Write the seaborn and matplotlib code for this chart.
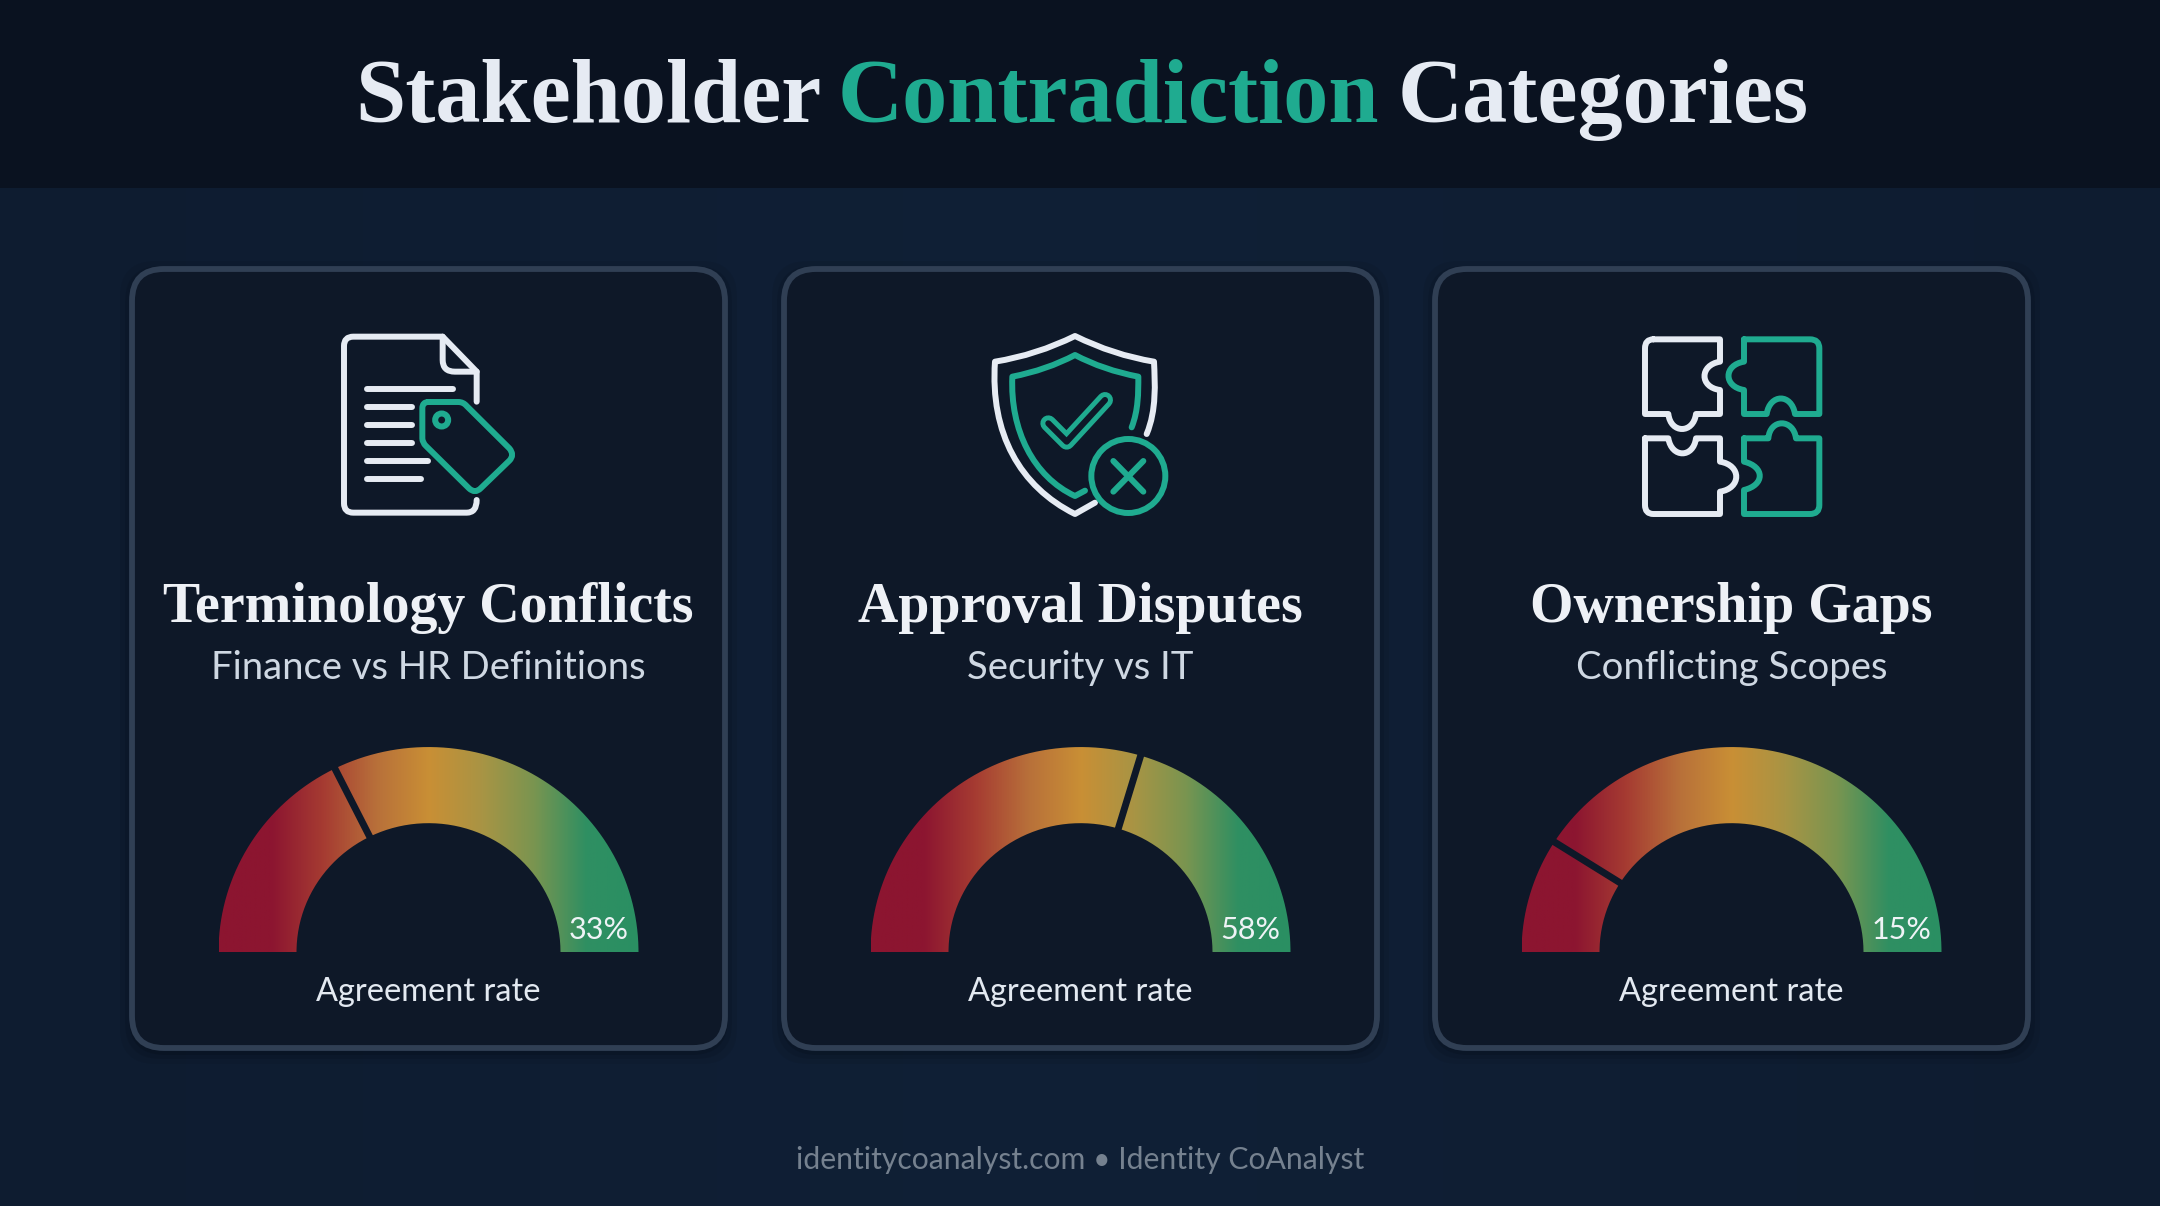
import numpy as np
import matplotlib
matplotlib.use("Agg")
import matplotlib.pyplot as plt
import seaborn as sns
from matplotlib.path import Path
from matplotlib.patches import PathPatch, FancyBboxPatch, Circle, Rectangle

# data
title_parts = ["Stakeholder", "Contradiction", "Categories"]
categories = ["Terminology Conflicts", "Approval Disputes", "Ownership Gaps"]
subtitles = ["Finance vs HR Definitions", "Security vs IT", "Conflicting Scopes"]
agreement = [33, 58, 15]
gauge_label = "Agreement rate"
footer = "identitycoanalyst.com • Identity CoAnalyst"

WHITE = "#e6ebf3"
TEAL = "#1fab90"
CARD = "#0e1828"
EDGE = "#303f54"
gauge_colors = ["#8c1530", "#8c1530", "#a63c32", "#b8703a", "#c98f35",
                "#a99444", "#7a9550", "#2f8f62", "#2a8f63"]

sns.set_theme(style="dark", rc={"axes.facecolor": "#102034", "figure.facecolor": "#102034"})
plt.rcParams["font.family"] = ["Lato", "DejaVu Sans"]
SERIF = ["Liberation Serif", "DejaVu Serif"]

fig = plt.figure(figsize=(21.6, 12.06), dpi=100)
ax = fig.add_axes([0, 0, 1, 1])

# background
bg_cmap = sns.blend_palette(["#0e1c30", "#102036", "#0e1c30"], n_colors=128, as_cmap=True)
ax.imshow(np.linspace(0, 1, 512)[None, :], extent=(0, 2160, 1206, 0), aspect="auto",
          cmap=bg_cmap, zorder=0)
ax.add_patch(Rectangle((0, 0), 2160, 188, fc="#0a1220", ec="none", zorder=1))
ax.set_xlim(0, 2160)
ax.set_ylim(1206, 0)
ax.axis("off")

# title
title_x = [355, 838, 1398]
title_col = [WHITE, TEAL, WHITE]
for part, x, col in zip(title_parts, title_x, title_col):
    ax.text(x, 122, part, color=col, fontsize=65, fontweight="bold", family=SERIF,
            ha="left", va="baseline", zorder=3)


def stroke(pts, col, cx, cy, lw=4.3, z=5):
    # pts are in icon units (3 units = 1 pixel), list of (code, points)
    verts, codes = [], []
    for kind, p in pts:
        p = [(cx + a / 3, cy + b / 3) for a, b in p]
        verts += p
        if kind == "M":
            codes.append(Path.MOVETO)
        elif kind == "L":
            codes += [Path.LINETO] * len(p)
        elif kind == "Q":
            codes += [Path.CURVE3] * len(p)
        elif kind == "C":
            codes += [Path.CURVE4] * len(p)
    patch = PathPatch(Path(verts, codes), fc="none", ec=col, lw=lw, zorder=z,
                      capstyle="round", joinstyle="round")
    ax.add_patch(patch)


def doc_icon():
    x0, y0 = 320, 310
    stroke([("M", [(470, 275)]), ("L", [(470, 185), (368, 80), (100, 80)]),
            ("Q", [(72, 80), (72, 108)]), ("L", [(72, 580)]),
            ("Q", [(72, 608), (100, 608)]), ("L", [(440, 608)]),
            ("Q", [(470, 608), (470, 570)])], WHITE, x0, y0)
    stroke([("M", [(368, 80)]), ("L", [(368, 150)]), ("Q", [(368, 185), (405, 185)]),
            ("L", [(470, 185)])], WHITE, x0, y0)
    line_ends = [400, 275, 275, 275, 325, 302]
    for y, xe in zip([237, 291, 345, 400, 454, 508], line_ends):
        stroke([("M", [(140, y)]), ("L", [(xe, y)])], WHITE, x0, y0)
    stroke([("M", [(325, 276)]), ("L", [(415, 276)]), ("Q", [(430, 276), (440, 288)]),
            ("L", [(568, 415)]), ("Q", [(585, 435), (568, 452)]), ("L", [(482, 535)]),
            ("Q", [(465, 552), (447, 535)]), ("L", [(318, 408)]), ("Q", [(307, 398), (307, 385)]),
            ("L", [(307, 295)]), ("Q", [(307, 276), (325, 276)])], TEAL, x0, y0)
    ax.add_patch(Circle((x0 + 365 / 3, y0 + 330 / 3), 6.5, fc="none", ec=TEAL, lw=4.3, zorder=5))


def shield_icon():
    x0, y0 = 960, 310
    stroke([("M", [(560, 372)]), ("C", [(590, 300), (585, 220), (582, 155)]),
            ("Q", [(460, 135), (345, 78)]), ("Q", [(230, 135), (105, 155)]),
            ("C", [(90, 370), (180, 530), (345, 612)]), ("L", [(405, 578)])], WHITE, x0, y0)
    stroke([("M", [(515, 352)]), ("C", [(535, 300), (535, 250), (535, 200)]),
            ("Q", [(430, 180), (345, 135)]), ("Q", [(260, 180), (157, 200)]),
            ("C", [(150, 360), (220, 500), (345, 558)]), ("L", [(375, 542)])], TEAL, x0, y0)
    check = [("M", [(265, 340)]), ("L", [(320, 395), (435, 270)])]
    stroke(check, TEAL, x0, y0, lw=11.5)
    stroke(check, CARD, x0, y0, lw=4.4, z=6)
    ax.add_patch(Circle((x0 + 505 / 3, y0 + 498 / 3), 37, fc="none", ec=TEAL, lw=4.3, zorder=5))
    stroke([("M", [(460, 453)]), ("L", [(550, 545)])], TEAL, x0, y0)
    stroke([("M", [(550, 453)]), ("L", [(460, 545)])], TEAL, x0, y0)


def puzzle_icon():
    x0, y0 = 1610, 310
    stroke([("M", [(130, 88)]), ("L", [(330, 88), (330, 155)]),
            ("C", [(268, 165), (268, 232), (330, 240)]), ("L", [(330, 312), (258, 312)]),
            ("C", [(250, 372), (182, 372), (175, 312)]), ("L", [(105, 312), (105, 115)]),
            ("Q", [(105, 88), (130, 88)])], WHITE, x0, y0)
    stroke([("M", [(402, 88)]), ("L", [(600, 88)]), ("Q", [(628, 88), (628, 115)]),
            ("L", [(628, 312), (555, 312)]), ("C", [(545, 250), (480, 250), (470, 312)]),
            ("L", [(402, 312), (402, 240)]), ("C", [(340, 230), (340, 165), (402, 155)]),
            ("L", [(402, 88)])], TEAL, x0, y0)
    stroke([("M", [(105, 385)]), ("L", [(175, 385)]), ("C", [(185, 445), (250, 445), (258, 385)]),
            ("L", [(330, 385), (330, 455)]), ("C", [(395, 465), (395, 535), (330, 545)]),
            ("L", [(330, 612), (130, 612)]), ("Q", [(105, 612), (105, 585)]),
            ("L", [(105, 385)])], WHITE, x0, y0)
    stroke([("M", [(402, 385)]), ("L", [(475, 385)]), ("C", [(480, 325), (550, 325), (558, 385)]),
            ("L", [(628, 385), (628, 585)]), ("Q", [(628, 612), (600, 612)]),
            ("L", [(402, 612), (402, 540)]), ("C", [(465, 525), (465, 470), (402, 455)]),
            ("L", [(402, 385)])], TEAL, x0, y0)


gauge_cmap = sns.blend_palette(gauge_colors, n_colors=256, as_cmap=True)


def gauge(cx, cy, value):
    R, r = 210, 132
    squash = 0.976  # arc in the reference is a little flatter than a circle
    t = np.linspace(np.pi, 0, 200)
    xs = np.r_[cx + R * np.cos(t), cx + r * np.cos(t[::-1])]
    ys = np.r_[cy - squash * R * np.sin(t), cy - squash * r * np.sin(t[::-1])]
    band = PathPatch(Path(np.c_[xs, ys]), fc="none", ec="none", transform=ax.transData)
    ax.add_patch(band)
    im = ax.imshow(np.linspace(0, 1, 512)[None, :], extent=(cx - R, cx + R, cy, cy - R),
                   aspect="auto", cmap=gauge_cmap, zorder=3)
    im.set_clip_path(band)
    # value tick, 0% on the left and 100% on the right
    a = np.pi - np.deg2rad(6.6 + 1.725 * value)
    ax.plot([cx + (r - 2) * np.cos(a), cx + (R + 2) * np.cos(a)],
            [cy - squash * (r - 2) * np.sin(a), cy - squash * (R + 2) * np.sin(a)],
            color=CARD, lw=5, solid_capstyle="butt", zorder=4)
    ax.text(cx + 170, cy - 22, f"{value}%", color="#eef3f6", fontsize=22, ha="center",
            va="center", zorder=5)


card_left = [132, 784, 1435]
card_w, card_h = 593, 779
card_top = 269
for name, sub, val, left in zip(categories, subtitles, agreement, card_left):
    for grow, alpha in [(12, 0.06), (7, 0.08), (3, 0.10)]:
        ax.add_patch(FancyBboxPatch((left - grow, card_top - grow + 4), card_w + 2 * grow, card_h + 2 * grow,
                                    boxstyle="round,pad=0,rounding_size=36", fc="black", ec="none",
                                    alpha=alpha, zorder=1.5))
    ax.add_patch(FancyBboxPatch((left, card_top), card_w, card_h, boxstyle="round,pad=0,rounding_size=32",
                                fc=CARD, ec=EDGE, lw=4.2, zorder=2))
    cx = left + card_w / 2
    ax.text(cx, 622, name, color="#eef1f6", fontsize=40.2, fontweight="bold", family=SERIF,
            ha="center", va="baseline", zorder=3)
    ax.text(cx, 668, sub, color="#cfd8e3", fontsize=27.5, ha="center", va="center", zorder=3)
    gauge(cx, 952, val)
    ax.text(cx, 992, gauge_label, color="#e3e9f1", fontsize=23.4, ha="center", va="center", zorder=3)

doc_icon()
shield_icon()
puzzle_icon()

ax.text(1080, 1160, footer, color="#75818f", fontsize=21.7, ha="center", va="center", zorder=3)

fig.savefig("out.png", dpi=100)
